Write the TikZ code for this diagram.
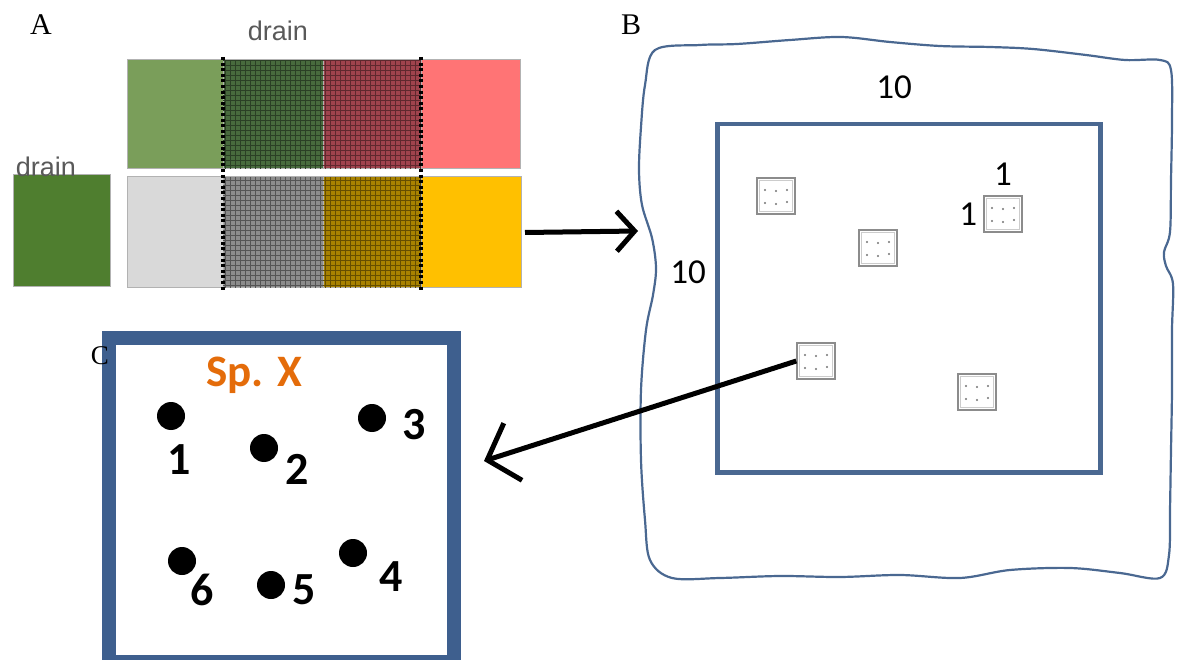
\documentclass[tikz,border=0pt]{standalone}
\usepackage{fontspec}
\setmainfont{Liberation Serif}
\newfontfamily\calibri{Carlito}
\newfontfamily\arial{Liberation Sans}
\usetikzlibrary{arrows.meta}
\usetikzlibrary{positioning}

\definecolor{leafgreen}{HTML}{7A9E5A}
\definecolor{mossgreen}{HTML}{486B3D}
\definecolor{winered}{HTML}{A0434D}
\definecolor{salmon}{HTML}{FF7475}
\definecolor{palegray}{HTML}{D9D9D9}
\definecolor{midgray}{HTML}{8C8C8C}
\definecolor{olive}{HTML}{A88200}
\definecolor{amber}{HTML}{FFC000}
\definecolor{draingreen}{HTML}{4F7E2F}
\definecolor{plotblue}{HTML}{4A6891}
\definecolor{framblue}{HTML}{3E5F8E}
\definecolor{sporange}{HTML}{E46C0A}

\begin{document}
\begin{tikzpicture}[x=1pt,y=-1pt,node distance=0pt and 0pt,
	cell/.style={draw=black!30,line width=1pt,rectangle,inner sep=0pt,outer sep=0pt},
	upper/.style={cell,minimum height=109pt},
	lower/.style={cell,minimum height=111pt},
	gridline/.style={line width=0.7pt},
	dotline/.style={black,line width=3.6pt,dash pattern=on 3pt off 2.6pt},
	drainlabel/.style={inner sep=0pt,text=black!65,font=\arial\fontsize{27}{30}\selectfont},
	panel/.style={inner sep=0pt,font=\fontsize{30}{33}\selectfont},
	dimlabel/.style={inner sep=0pt,font=\calibri\fontsize{35}{38}\selectfont},
	plotbox/.style={draw=black!45,fill=white,line width=1.4pt,rectangle,minimum width=38pt,minimum height=36pt,inner sep=0pt},
	tree/.style={circle,fill=black,minimum size=28pt,inner sep=0pt},
	treenum/.style={inner sep=0pt,font=\calibri\bfseries\fontsize{46}{48}\selectfont},
	arrowAB/.style={line width=5pt,-{Straight Barb[length=18pt,width=40pt,line width=5pt]}},
	arrowBC/.style={line width=5pt,-{Straight Barb[length=27pt,width=60pt,line width=5pt]}}]
	\useasboundingbox (0,0) rectangle (1178,660);

	% panel A
	\node [panel] (labelA) at (41,25) {A};
	\node [drainlabel] (draintop) at (278,31) {drain};
	\node [upper,fill=leafgreen,minimum width=96pt,anchor=north west] (upper1) at (127,60) {};
	\node [upper,fill=mossgreen,minimum width=100pt,right=of upper1] (upper2) {};
	\node [upper,fill=winered,minimum width=98pt,right=of upper2] (upper3) {};
	\node [upper,fill=salmon,minimum width=99pt,right=of upper3] (upper4) {};
	\node [lower,fill=palegray,minimum width=96pt,anchor=north west] (lower1) at (127,177) {};
	\node [lower,fill=midgray,minimum width=100pt,right=of lower1] (lower2) {};
	\node [lower,fill=olive,minimum width=98pt,right=of lower2] (lower3) {};
	\node [lower,fill=amber,minimum width=100pt,right=of lower3] (lower4) {};
	\foreach \c/\g in {upper2/mossgreen,upper3/winered,lower2/midgray,lower3/olive}
		\draw [gridline,\g!60!black,step=5pt] (\c.south west) grid (\c.north east);
	\draw [dotline] ([yshift=3pt]upper1.north east) -- ([yshift=-4pt]lower1.south east);
	\draw [dotline] ([yshift=3pt]upper3.north east) -- ([yshift=-4pt]lower3.south east);

	\node [cell,fill=draingreen,minimum width=97pt,minimum height=112pt,anchor=north west] (drainbox) at (13,175) {};
	\node [drainlabel] (drainleft) at (46,167) {drain};

	% panel B
	\node [panel] (labelB) at (631,25) {B};
	\draw [plotblue,line width=2.2pt] plot [smooth cycle,tension=0.55] coordinates {
		(655,50) (700,45) (737,44) (790,40) (841,37) (890,42) (940,46) (990,47)
		(1033,49) (1086,55) (1125,60) (1160,60) (1171,70) (1172,120) (1171,180)
		(1170,232) (1164,252) (1166,266) (1173,284) (1172,330) (1172,390)
		(1171,450) (1170,510) (1169,555) (1160,578) (1120,573) (1070,568)
		(1010,570) (960,578) (900,575) (840,577) (780,576) (720,578) (672,578)
		(650,560) (645,520) (641,460) (641,390) (646,330) (653,295) (656,268)
		(652,238) (642,205) (639,170) (641,127) (645,85)};
	\node [draw=plotblue,line width=4.5pt,rectangle,inner sep=0pt,minimum width=383pt,minimum height=348pt,anchor=north west] (field) at (715,122) {};
	\node [dimlabel] (toplen) at (894,87) {10};
	\node [dimlabel] (sidelen) at (688,272) {10};

	\node [plotbox] (p1) at (776,196) {};
	\node [plotbox] (p2) at (878,248) {};
	\node [plotbox] (p3) at (1003,214) {};
	\node [plotbox] (p4) at (816,361) {};
	\node [plotbox] (p5) at (977,392) {};
	\foreach \p in {p1,p2,p3,p4,p5} {
		\draw [black!20,line width=0.8pt] ([xshift=3pt,yshift=-3pt]\p.north west) rectangle ([xshift=-3pt,yshift=3pt]\p.south east);
		\foreach \dx/\dy in {-11/6,0/5,11/6,-11/-7,0/-8,11/-6}
			\fill [black!55] ([xshift=\dx pt,yshift=\dy pt]\p.center) circle (1.1pt);
	}
	\node [dimlabel,above=10pt of p3] (plotw) {1};
	\node [dimlabel,left=6pt of p3] (ploth) {1};

	\coordinate (bIn) at (638,231);
	\draw [arrowAB] ([xshift=4pt]lower4.east) -- (bIn);
	\coordinate (cIn) at (484,461);
	\draw [arrowBC] (p4.west) -- (cIn);

	% panel C
	\node [draw=framblue,line width=14pt,rectangle,inner sep=0pt,minimum width=345pt,minimum height=324pt,anchor=north west] (frame) at (102,331) {};
	\node [inner sep=0pt,font=\fontsize{27}{30}\selectfont] (labelC) at (100,356) {C};
	\node [inner sep=0pt,anchor=base,text=sporange,font=\calibri\bfseries\fontsize{45}{48}\selectfont] (species) at (254,386) {Sp. X};
	\foreach \n/\tx/\ty/\lx/\ly in {1/171/416/179/460, 2/264/448/297/469, 3/372/418/414/425,
			4/353/553/391/577, 5/271/585/304/590, 6/182/561/202/590} {
		\node [tree] (tree\n) at (\tx,\ty) {};
		\node [treenum] (num\n) at (\lx,\ly) {\n};
	}
\end{tikzpicture}
\end{document}
